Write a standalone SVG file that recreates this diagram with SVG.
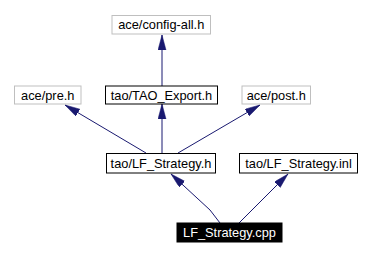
<svg xmlns="http://www.w3.org/2000/svg" width="370" height="257" viewBox="0 0 370 257">
  <style>
    .node rect { stroke-width: 1; }
    .ext rect { fill: #ffffff; stroke: #bfbfbf; }
    .doc rect { fill: #ffffff; stroke: #000000; }
    .cur rect { fill: #000000; stroke: #000000; }
    text { font-family: "Liberation Sans", Arial, Helvetica, sans-serif; font-size: 12.8px; text-anchor: middle; fill: #000000; }
    .cur text { fill: #ffffff; }
    .edges path { fill: none; stroke: #191970; stroke-width: 1; }
  </style>
  <defs>
    <marker id="arrow" markerUnits="userSpaceOnUse" markerWidth="16" markerHeight="10" refX="15" refY="4" orient="auto">
      <path d="M0,0 L15,4 L0,8 z" fill="#191970" stroke="#191970" stroke-width="0.5"/>
    </marker>
  </defs>
  <rect width="370" height="257" fill="#ffffff"/>

  <g class="edges">
    <path d="M162,86 L162,35" marker-end="url(#arrow)"/>
    <path d="M162,153 L162,104" marker-end="url(#arrow)"/>
    <path d="M146,153 L65,105" marker-end="url(#arrow)"/>
    <path d="M178,153 L260,105" marker-end="url(#arrow)"/>
    <path d="M220,223 L210,210 L171,174" marker-end="url(#arrow)"/>
    <path d="M239,223 L288,174" marker-end="url(#arrow)"/>
  </g>

  <g id="config-all" class="node ext">
    <rect x="112" y="15.5" width="98.5" height="18.5"/>
    <text x="161.25" y="29">ace/config-all.h</text>
  </g>
  <g id="pre" class="node ext">
    <rect x="14.5" y="86" width="66.5" height="18"/>
    <text x="47.75" y="99.5">ace/pre.h</text>
  </g>
  <g id="tao-export" class="node doc">
    <rect x="105.5" y="86" width="112" height="18"/>
    <text x="161.5" y="99.5">tao/TAO_Export.h</text>
  </g>
  <g id="post" class="node ext">
    <rect x="242" y="86" width="68.5" height="18"/>
    <text x="276.25" y="99.5">ace/post.h</text>
  </g>
  <g id="lf-strategy-h" class="node doc">
    <rect x="106.5" y="153.5" width="109" height="19.5"/>
    <text x="161" y="167.5">tao/LF_Strategy.h</text>
  </g>
  <g id="lf-strategy-inl" class="node doc">
    <rect x="239.5" y="153.5" width="118" height="19.5"/>
    <text x="298.5" y="167.5">tao/LF_Strategy.inl</text>
  </g>
  <g id="lf-strategy-cpp" class="node cur">
    <rect x="177" y="223" width="105" height="19"/>
    <text x="229.5" y="237">LF_Strategy.cpp</text>
  </g>
</svg>
